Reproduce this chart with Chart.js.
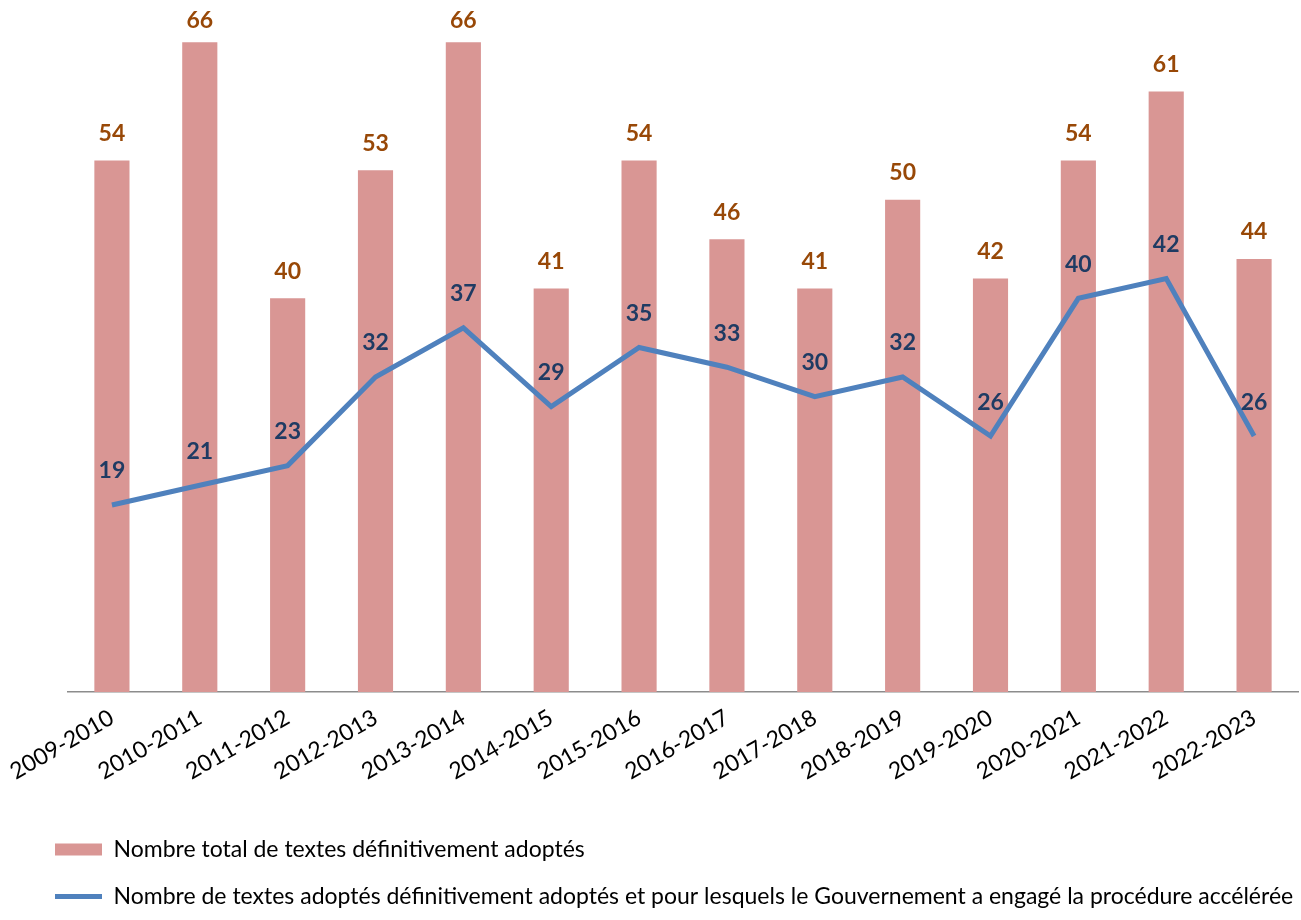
<!DOCTYPE html>
<html>
<head>
<meta charset="utf-8">
<script src="https://cdn.jsdelivr.net/npm/chart.js@4/dist/chart.umd.min.js"></script>
<style>
  html, body { margin: 0; padding: 0; background: #fff; }
  .wrap { width: 1301px; height: 920px; position: relative; }
</style>
</head>
<body>
<div class="wrap"><canvas id="chart"></canvas></div>
<script>
const sessions = ["2009-2010", "2010-2011", "2011-2012", "2012-2013", "2013-2014", "2014-2015", "2015-2016",
  "2016-2017", "2017-2018", "2018-2019", "2019-2020", "2020-2021", "2021-2022", "2022-2023"];
const totalTexts = [54, 66, 40, 53, 66, 41, 54, 46, 41, 50, 42, 54, 61, 44];
const acceleratedTexts = [19, 21, 23, 32, 37, 29, 35, 33, 30, 32, 26, 40, 42, 26];

const totalLabel = "Nombre total de textes définitivement adoptés";
const accelLabel = "Nombre de textes adoptés définitivement adoptés et pour lesquels le Gouvernement a engagé la procédure accélérée";

const FONT = "Lato, 'Open Sans', sans-serif";

// draws the value above each bar / point
const valueLabels = {
  id: "valueLabels",
  afterDatasetsDraw(chart) {
    const ctx = chart.ctx;
    ctx.save();
    ctx.font = "bold 23px " + FONT;
    ctx.textAlign = "center";
    ctx.textBaseline = "middle";
    chart.data.datasets.forEach((ds, i) => {
      const meta = chart.getDatasetMeta(i);
      meta.data.forEach((el, j) => {
        const off = ds.type === "line" ? 34 : 27;
        const y = Math.max(el.y - off, 21);
        ctx.fillStyle = ds.labelColor;
        ctx.fillText(ds.data[j], el.x, y);
      });
    });
    ctx.restore();
  },
};

const canvas = document.getElementById("chart").getContext("2d");
new Chart(canvas, {
  type: "bar",
  data: {
    labels: sessions,
    datasets: [
      {
        label: totalLabel,
        data: totalTexts,
        backgroundColor: "#D99694",
        borderWidth: 0,
        barPercentage: 0.4,
        categoryPercentage: 1,
        labelColor: "#984807",
        order: 1,
      },
      {
        type: "line",
        label: accelLabel,
        data: acceleratedTexts,
        borderColor: "#4F81BD",
        backgroundColor: "#4F81BD",
        borderWidth: 5,
        pointRadius: 0,
        tension: 0,
        labelColor: "#1F3B63",
        order: 0,
      },
    ],
  },
  options: {
    responsive: true,
    maintainAspectRatio: false,
    animation: false,
    layout: { padding: { left: 31, right: 3, top: 3, bottom: 2 } },
    scales: {
      x: {
        grid: { display: false },
        border: { display: true, color: "#8C8C8C", width: 1.5 },
        ticks: {
          color: "#000",
          font: { family: FONT, size: 23 },
          minRotation: 30,
          maxRotation: 30,
          padding: 4,
        },
        afterFit(scale) {
          scale.height = 122;
        },
      },
      y: {
        display: true,
        min: 0,
        max: 70,
        grid: { display: false },
        border: { display: false },
        ticks: { display: false },
        afterFit(scale) {
          scale.width = 37;
        },
      },
    },
    plugins: {
      tooltip: { enabled: false },
      legend: {
        position: "bottom",
        align: "start",
        labels: {
          color: "#000",
          font: { family: FONT, size: 23 },
          usePointStyle: true,
          pointStyleWidth: 47,
          boxHeight: 12,
          padding: 24,
          generateLabels(chart) {
            const items = Chart.defaults.plugins.legend.labels.generateLabels(chart);
            items.sort((a, b) => a.datasetIndex - b.datasetIndex);
            items.forEach((it) => {
              if (it.datasetIndex === 0) {
                it.pointStyle = "rect";
                it.lineWidth = 0;
              } else {
                it.pointStyle = "line";
                it.lineWidth = 5;
                it.strokeStyle = "#4F81BD";
              }
            });
            return items;
          },
        },
      },
    },
  },
  plugins: [valueLabels],
});
</script>
</body>
</html>
